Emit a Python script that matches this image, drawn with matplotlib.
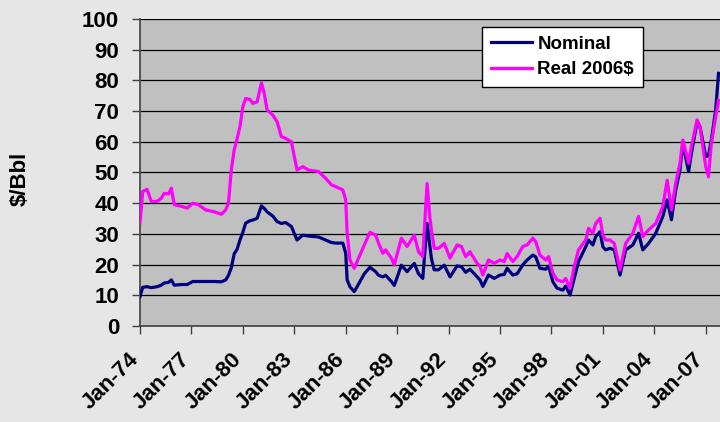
import matplotlib.pyplot as plt
import matplotlib.dates as mdates
import matplotlib.transforms as mtransforms
import pandas as pd

plt.rcParams['font.family'] = ['Liberation Sans', 'DejaVu Sans']

months = ['1974-01', '1974-03', '1974-06', '1974-09', '1975-01', '1975-04', '1975-06', '1975-09',
          '1975-11', '1976-01', '1976-06', '1976-10', '1977-02', '1977-06', '1977-11', '1978-05',
          '1978-10', '1979-01', '1979-03', '1979-05', '1979-07', '1979-09', '1979-11', '1980-01',
          '1980-03', '1980-06', '1980-08', '1980-11', '1981-02', '1981-04', '1981-06', '1981-10',
          '1982-01', '1982-04', '1982-07', '1982-11', '1983-03', '1983-07', '1983-11', '1984-06',
          '1984-11', '1985-03', '1985-06', '1985-11', '1986-01', '1986-02', '1986-04', '1986-07',
          '1986-09', '1987-02', '1987-06', '1987-10', '1987-12', '1988-03', '1988-05', '1988-09',
          '1988-11', '1989-04', '1989-08', '1990-01', '1990-04', '1990-07', '1990-10', '1990-12',
          '1991-01', '1991-03', '1991-06', '1991-10', '1992-02', '1992-07', '1992-10', '1993-01',
          '1993-04', '1993-09', '1993-11', '1994-01', '1994-05', '1994-09', '1995-01', '1995-04',
          '1995-06', '1995-10', '1996-01', '1996-05', '1996-08', '1996-12', '1997-02', '1997-05',
          '1997-09', '1997-11', '1998-02', '1998-05', '1998-09', '1998-11', '1999-02', '1999-05',
          '1999-08', '2000-01', '2000-03', '2000-06', '2000-08', '2000-11', '2001-01', '2001-03',
          '2001-06', '2001-09', '2002-01', '2002-05', '2002-10', '2003-02', '2003-05', '2003-09',
          '2004-02', '2004-07', '2004-10', '2005-01', '2005-04', '2005-07', '2005-09', '2006-01',
          '2006-03', '2006-07', '2006-09', '2007-01', '2007-03', '2007-05', '2007-08', '2007-10']

nominal = [9.6, 12.6, 12.8, 12.5, 12.8, 13.3, 14.0, 14.2,
           15.0, 13.3, 13.5, 13.5, 14.5, 14.5, 14.5, 14.5,
           14.4, 15.0, 16.5, 19.0, 23.5, 25.0, 28.0, 30.5,
           33.5, 34.3, 34.5, 35.1, 39.1, 38.3, 37.2, 35.8,
           34.0, 33.4, 33.7, 32.4, 28.0, 29.6, 29.3, 29.0,
           28.0, 27.2, 27.0, 27.0, 23.7, 15.0, 12.8, 11.2,
           12.8, 17.0, 19.1, 17.7, 16.5, 16.0, 16.5, 14.5,
           13.2, 19.8, 17.7, 20.4, 17.0, 15.5, 33.4, 25.9,
           22.0, 18.3, 18.3, 19.8, 16.0, 19.6, 19.3, 17.5,
           18.5, 16.0, 15.0, 12.9, 16.6, 15.5, 16.6, 16.8,
           18.8, 16.6, 17.0, 19.9, 21.5, 23.1, 22.5, 18.8,
           18.5, 19.5, 14.4, 12.3, 11.7, 13.0, 10.1, 15.5,
           21.0, 25.8, 28.0, 26.4, 29.1, 30.7, 25.8, 24.8,
           25.3, 24.8, 16.6, 24.8, 26.4, 30.2, 24.8, 26.9,
           30.2, 35.7, 41.1, 34.6, 44.3, 50.8, 59.5, 50.3,
           56.2, 66.5, 64.9, 55.2, 55.5, 60.6, 70.4, 82.3]

real_2006 = [33.5, 43.8, 44.5, 40.5, 40.6, 41.6, 43.2, 43.0,
             44.9, 39.5, 39.0, 38.4, 40.0, 39.5, 37.8, 37.2,
             36.4, 37.8, 40.0, 50.8, 57.3, 61.0, 64.9, 71.4,
             74.1, 73.8, 72.5, 73.0, 79.2, 75.8, 70.4, 68.7,
             66.5, 61.7, 61.1, 60.0, 50.8, 51.9, 50.8, 50.3,
             48.1, 46.0, 45.4, 44.3, 41.1, 30.2, 21.5, 18.8,
             21.0, 26.4, 30.5, 29.6, 27.0, 23.7, 24.8, 22.1,
             19.9, 28.6, 25.9, 29.6, 24.2, 22.6, 46.4, 35.0,
             31.3, 25.3, 25.3, 26.9, 22.1, 26.4, 25.9, 22.6,
             24.2, 20.4, 19.5, 16.6, 21.5, 20.4, 21.5, 21.0,
             23.6, 21.0, 22.6, 25.9, 26.4, 28.6, 27.5, 23.1,
             21.5, 22.6, 17.2, 15.0, 14.4, 15.5, 12.3, 19.3,
             24.8, 28.0, 31.8, 30.2, 33.4, 35.1, 29.6, 28.0,
             28.0, 26.9, 18.3, 26.9, 30.2, 35.7, 29.1, 31.3,
             33.4, 38.9, 47.5, 37.8, 46.4, 53.0, 60.6, 53.0,
             58.4, 67.1, 64.9, 51.9, 48.6, 59.5, 68.1, 73.5]

tick_years = list(range(1974, 2008, 3))

dates = pd.to_datetime(months)

fig = plt.figure(figsize=(7.2, 4.22), dpi=100, facecolor='#e6e6e6')
ax = fig.add_axes([0.1944, 0.2275, 0.8056, 0.7275])
ax.set_facecolor('#c0c0c0')

ax.plot(dates, nominal, color='#000080', lw=2.3, label='Nominal', zorder=3)
ax.plot(dates, real_2006, color='#ff00ff', lw=2.3, label='Real 2006$', zorder=3)

ax.set_ylim(0, 100)
ax.set_yticks(range(0, 101, 10))
ax.set_xlim(pd.Timestamp('1974-01-01'), pd.Timestamp('2007-11-01'))
ax.set_xticks([pd.Timestamp(f'{y}-01-01') for y in tick_years])
ax.xaxis.set_major_formatter(mdates.DateFormatter('%b-%y'))

ax.yaxis.grid(True, color='black', lw=0.9)
ax.set_axisbelow(True)
for s in ['top', 'right']:
    ax.spines[s].set_visible(False)
for s in ['left', 'bottom']:
    ax.spines[s].set_color('#404040')
    ax.spines[s].set_linewidth(1.2)

ax.tick_params(axis='y', length=6, width=1, color='#404040', pad=9, labelsize=16)
ax.tick_params(axis='x', length=6, width=1, color='#404040', pad=8, labelsize=16)
shift = mtransforms.ScaledTranslation(-0.12, -0.03, fig.dpi_scale_trans)
for lab in ax.get_yticklabels():
    lab.set_fontweight('bold')
for lab in ax.get_xticklabels():
    lab.set_fontweight('bold')
    lab.set_rotation(45)
    lab.set_ha('right')
    lab.set_rotation_mode('anchor')
    lab.set_transform(lab.get_transform() + shift)

fig.text(0.028, 0.575, '$/Bbl', rotation=90, ha='center', va='center',
         fontsize=16, fontweight='bold')

leg = ax.legend(loc='upper left', bbox_to_anchor=(0.59, 0.974), borderaxespad=0,
                frameon=True, fancybox=False, edgecolor='black', facecolor='white',
                framealpha=1, handlelength=2.2, borderpad=0.45, labelspacing=0.45,
                handletextpad=0.3, prop={'weight': 'bold', 'size': 13.5})
leg.get_frame().set_linewidth(1)

fig.savefig('out.png', dpi=100, facecolor=fig.get_facecolor())
